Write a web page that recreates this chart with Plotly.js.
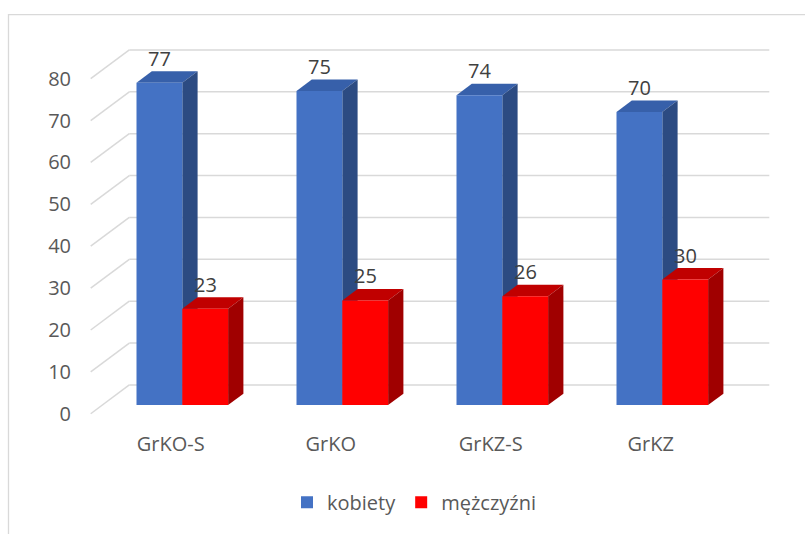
<!DOCTYPE html>
<html>
<head>
<meta charset="utf-8">
<script src="https://cdn.plot.ly/plotly-3.0.1.min.js"></script>
<style>
  html, body { margin: 0; padding: 0; background: #ffffff; }
  #chart { width: 805px; height: 534px; }
</style>
</head>
<body>
<div id="chart"></div>
<script>
// ---- data ----
const categories = ['GrKO-S', 'GrKO', 'GrKZ-S', 'GrKZ'];
const seriesNames = ['kobiety', 'mężczyźni'];
const kobiety = [77, 75, 74, 70];
const mezczyzni = [23, 25, 26, 30];
const yTickValues = [0, 10, 20, 30, 40, 50, 60, 70, 80];

// ---- geometry (pixel-based design, converted to axis units) ----
const W = 805, H = 534;
const M = { l: 72, r: 15, t: 28, b: 113 };
const pxPerCat = 160;          // px per category slot (front plane)
const firstCenterPx = 182.3;   // px of category 0 centre
const pxPerUnit = 4.22;        // px per value unit
const zeroPx = 408;            // px of value 0 (front plane)

const plotW = W - M.l - M.r, plotH = H - M.t - M.b;
const xMin = (M.l - firstCenterPx) / pxPerCat;
const xMax = xMin + plotW / pxPerCat;
const yMax = (zeroPx - M.t) / pxPerUnit;
const yMin = yMax - plotH / pxPerUnit;

const cx = px => px / pxPerCat;     // px length -> category units
const cy = px => px / pxPerUnit;    // px length -> value units

// wall depth offsets relative to the bar front plane
const backDx = cx(27), backDy = cy(20.3);
const frontDx = cx(-11.6), frontDy = cy(-8.7);
// bar depth
const barDx = cx(15.3), barDy = cy(11.5);
const barW = 45.8 / pxPerCat;

const xs = categories.map((c, i) => i);
const gridColor = '#D9D9D9';

const shapes = [];
// back wall gridlines + left wall diagonals
yTickValues.forEach(v => {
  shapes.push({ type: 'line', layer: 'below', xref: 'x', yref: 'y',
    x0: -0.5 + backDx, x1: 3.5 + backDx, y0: v + backDy, y1: v + backDy,
    line: { color: gridColor, width: 1.5 } });
  shapes.push({ type: 'line', layer: 'below', xref: 'x', yref: 'y',
    x0: -0.5 + frontDx, y0: v + frontDy, x1: -0.5 + backDx, y1: v + backDy,
    line: { color: gridColor, width: 1.5 } });
});

function faces(xl, xr, h, topColor, sideColor) {
  shapes.push({ type: 'path', layer: 'below', xref: 'x', yref: 'y',
    path: `M${xl},${h} L${xr},${h} L${xr + barDx},${h + barDy} L${xl + barDx},${h + barDy} Z`,
    fillcolor: topColor, line: { width: 0 } });
  shapes.push({ type: 'path', layer: 'below', xref: 'x', yref: 'y',
    path: `M${xr},0 L${xr},${h} L${xr + barDx},${h + barDy} L${xr + barDx},${barDy} Z`,
    fillcolor: sideColor, line: { width: 0 } });
}
xs.forEach((x, i) => {
  faces(x - barW, x, kobiety[i], '#3760AA', '#2C4B82');
});
xs.forEach((x, i) => {
  faces(x, x + barW, mezczyzni[i], '#C00000', '#A00000');
});

// outer chart border (paper coords)
const pxToPaperX = px => (px - M.l) / plotW;
const pxToPaperY = py => (H - M.b - py) / plotH;
shapes.push({ type: 'rect', layer: 'below', xref: 'paper', yref: 'paper',
  x0: pxToPaperX(8.5), x1: pxToPaperX(810), y0: pxToPaperY(14.5), y1: pxToPaperY(540),
  line: { color: '#D9D9D9', width: 1.3 }, fillcolor: 'rgba(0,0,0,0)' });

const annotations = [];
xs.forEach((x, i) => {
  annotations.push({ x: x - barW / 2, y: kobiety[i] + barDy, xref: 'x', yref: 'y',
    text: String(kobiety[i]), showarrow: false, yshift: 13,
    font: { size: 20, color: '#404040' } });
  annotations.push({ x: x + barW / 2, y: mezczyzni[i] + barDy, xref: 'x', yref: 'y',
    text: String(mezczyzni[i]), showarrow: false, yshift: 13,
    font: { size: 20, color: '#404040' } });
});

const traces = [
  { type: 'bar', name: seriesNames[0], x: xs, y: kobiety,
    marker: { color: '#4472C4', line: { width: 0 } }, hoverinfo: 'y' },
  { type: 'bar', name: seriesNames[1], x: xs, y: mezczyzni,
    marker: { color: '#FF0000', line: { width: 0 } }, hoverinfo: 'y' }
];

const layout = {
  width: W, height: H,
  margin: M,
  paper_bgcolor: '#ffffff', plot_bgcolor: 'rgba(0,0,0,0)',
  font: { family: '"Open Sans", sans-serif', size: 20, color: '#595959' },
  barmode: 'group', bargap: 1 - 2 * barW, bargroupgap: 0,
  showlegend: true,
  legend: { orientation: 'h', x: pxToPaperX(414), xanchor: 'center',
    y: pxToPaperY(506), yanchor: 'middle', font: { size: 20, color: '#595959' },
    traceorder: 'normal' },
  xaxis: { type: 'linear', range: [xMin, xMax], showgrid: false, zeroline: false,
    showline: false, ticks: '', tickmode: 'array',
    tickvals: xs.map(x => x + frontDx), ticktext: categories,
    ticklabelstandoff: 12, fixedrange: true },
  yaxis: { type: 'linear', range: [yMin, yMax], showgrid: false, zeroline: false,
    showline: false, ticks: '', tickmode: 'array',
    tickvals: yTickValues.map(v => v + frontDy), ticktext: yTickValues.map(String),
    fixedrange: true },
  shapes: shapes,
  annotations: annotations
};

Plotly.newPlot('chart', traces, layout, { displayModeBar: false, staticPlot: true });
</script>
</body>
</html>
